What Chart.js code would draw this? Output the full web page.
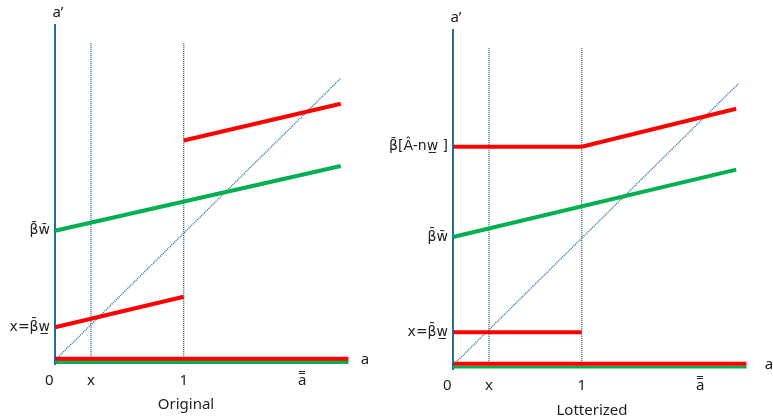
<!DOCTYPE html>
<html>
<head>
<meta charset="utf-8">
<script src="https://cdn.jsdelivr.net/npm/chart.js@4.4.1/dist/chart.umd.min.js"></script>
<style>
  html, body { margin: 0; padding: 0; background: #fff; }
  #wrap { position: relative; width: 773px; height: 419px; }
  .box { position: absolute; top: 0; height: 419px; }
</style>
</head>
<body>
<div id="wrap">
  <div class="box" style="left:0;width:386px"><canvas id="leftChart"></canvas></div>
  <div class="box" style="left:386px;width:387px"><canvas id="rightChart"></canvas></div>
</div>
<script>
// x positions (a), shared by both panels
const xTicks = [-0.045, 0.28, 1, 1.92];
const xTickLabels = ["0", "x", "1", "a\u033F"];
const xMark = 0.28;     // the "x" threshold
const aEnd = 2.22;      // where the policy lines stop
const axisEnd = 2.28;   // end of the horizontal axis line

// Original panel
const origYTicks = [0.26, 1.02];
const origYLabels = ["x=\u03B2\u0304w\u0332", "\u03B2\u0304w\u0304"];
const origGreen = [[0, 1.02], [aEnd, 1.53]];
const origRedLow = [[0, 0.26], [1, 0.50]];
const origRedHigh = [[1, 1.73], [aEnd, 2.02]];

// Lotterized panel
const lotYTicks = [0.26, 1.01, 1.72];
const lotYLabels = ["x=\u03B2\u0304w\u0332", "\u03B2\u0304w\u0304", "\u03B2\u0304[\u00C2-nw\u0332 ]"];
const lotGreen = [[0, 1.01], [aEnd - 0.02, 1.54]];
const lotRedLow = [[0, 0.26], [1, 0.26]];
const lotRedHigh = [[0, 1.72], [1, 1.72], [aEnd - 0.02, 2.02]];

const diagonal = [[0.02, 0.02], [aEnd, aEnd]];
const guideTop = 2.5;

const RED = "#ff0000";
const GREEN = "#00b050";
const AXIS = "#1f6f9a";
const DOT = "#2a6e9e";
const FONT = "'Noto Sans', 'Open Sans', sans-serif";
const LABEL_FONT = "'DejaVu Sans', 'Noto Sans', sans-serif";

const pts = arr => arr.map(p => ({ x: p[0], y: p[1] }));

function solid(data, color, width) {
  return { data: pts(data), borderColor: color, borderWidth: width, pointRadius: 0, fill: false, tension: 0, clip: false, order: 1 };
}
function dotted(data) {
  return { data: pts(data), borderColor: DOT, borderWidth: 1.4, borderDash: [1, 1], pointRadius: 0, fill: false, tension: 0, clip: false, order: 10 };
}

function makeChart(id, cfg) {
  const labelsPlugin = {
    id: "axisNames",
    afterDraw(chart) {
      const { ctx, scales: { x, y }, chartArea } = chart;
      ctx.save();
      ctx.fillStyle = "#222";
      ctx.font = "15px " + FONT;
      ctx.textAlign = "center";
      ctx.textBaseline = "middle";
      ctx.fillText("a", x.getPixelForValue(x.max) + cfg.aGap, y.getPixelForValue(0));
      ctx.fillText("a\u2019", chartArea.left + 3, chartArea.top - 12);
      ctx.fillText(cfg.title, cfg.titleX, cfg.titleY);
      ctx.restore();
    }
  };

  return new Chart(document.getElementById(id), {
    type: "line",
    data: {
      datasets: [
        solid(cfg.green, GREEN, 4),
        solid(cfg.redLow, RED, 4),
        solid(cfg.redHigh, RED, 4),
        solid([[0, 0.012], [axisEnd, 0.012]], RED, 4),
        solid([[0, -0.015], [axisEnd, -0.015]], GREEN, cfg.baseGreenW),
        dotted(diagonal),
        dotted([[xMark, 0], [xMark, guideTop]]),
        dotted([[1, 0], [1, guideTop]])
      ]
    },
    options: {
      responsive: true,
      maintainAspectRatio: false,
      animation: false,
      layout: { padding: { left: 0, top: cfg.top, right: cfg.right, bottom: 0 } },
      plugins: { legend: { display: false }, tooltip: { enabled: false } },
      scales: {
        x: {
          type: "linear",
          min: 0,
          max: 2.3,
          grid: { display: false },
          border: { display: false },
          afterFit(scale) { scale.height = cfg.xHeight; },
          afterBuildTicks(scale) { scale.ticks = xTicks.map(v => ({ value: v })); },
          ticks: {
            padding: 0,
            color: "#222",
            font: { family: FONT, size: 15 },
            maxRotation: 0,
            autoSkip: false,
            callback: (v, i) => xTickLabels[i]
          }
        },
        y: {
          type: "linear",
          min: cfg.yMin,
          max: cfg.yMax,
          grid: { display: false, drawTicks: false, tickLength: 0 },
          border: { display: true, color: AXIS, width: 2 },
          afterFit(scale) { scale.width = cfg.yWidth; },
          afterBuildTicks(scale) { scale.ticks = cfg.yTicks.map(v => ({ value: v })); },
          ticks: {
            padding: 5,
            color: "#222",
            font: { family: LABEL_FONT, size: 14 },
            autoSkip: false,
            callback: (v, i) => cfg.yLabels[i]
          }
        }
      }
    },
    plugins: [labelsPlugin]
  });
}

makeChart("leftChart", {
  green: origGreen, redLow: origRedLow, redHigh: origRedHigh,
  yTicks: origYTicks, yLabels: origYLabels,
  top: 25, right: 35, yWidth: 55, xHeight: 55, yMin: -0.03, yMax: 2.64,
  baseGreenW: 4, aGap: 14, title: "Original", titleX: 186, titleY: 405
});

makeChart("rightChart", {
  green: lotGreen, redLow: lotRedLow, redHigh: lotRedHigh,
  yTicks: lotYTicks, yLabels: lotYLabels,
  top: 30, right: 24, yWidth: 67, xHeight: 50, yMin: -0.03, yMax: 2.64,
  baseGreenW: 3, aGap: 20, title: "Lotterized", titleX: 206, titleY: 411
});
</script>
</body>
</html>
